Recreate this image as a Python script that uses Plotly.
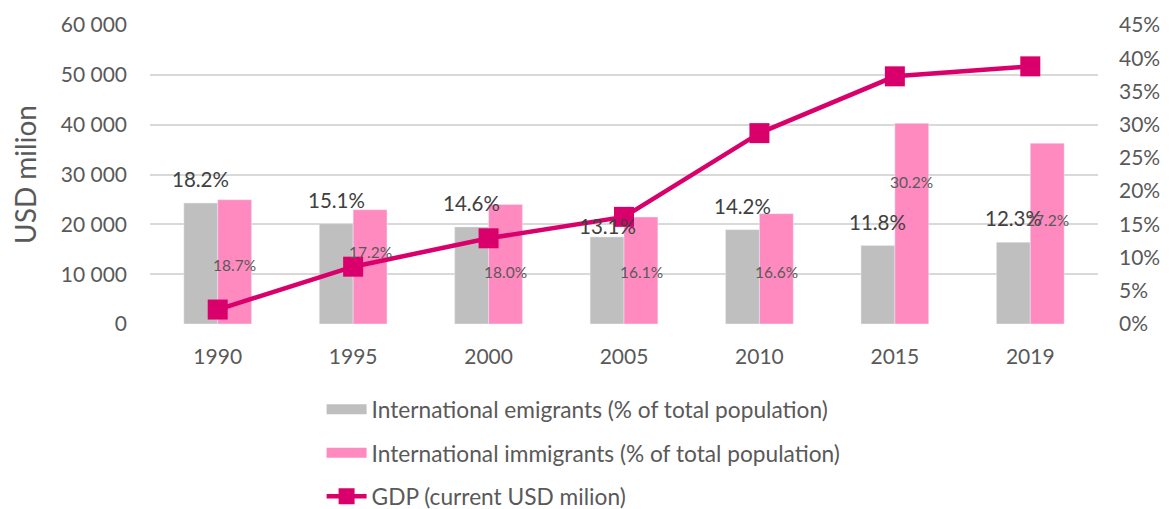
import plotly.graph_objects as go

years = ["1990", "1995", "2000", "2005", "2010", "2015", "2019"]
emigrants = [18.2, 15.1, 14.6, 13.1, 14.2, 11.8, 12.3]
immigrants = [18.7, 17.2, 18.0, 16.1, 16.6, 30.2, 27.2]
gdp = [2900, 11500, 17200, 21500, 38300, 49700, 51700]

# label placement for data labels (px above bar top / right-axis % units)
emi_label_shift = [24, 24, 24, 11, 24, 24, 24]
imm_label_y = [8.9, 10.9, 7.9, 7.9, 7.9, 21.4, 15.7]

FONT = "Lato"
TICK = "#595959"
GRAY = "#BFBFBF"
PINK = "#FF8AC0"
LINE = "#D9006C"
BAR_HALF = 17  # px, half of one bar's width
EMI_NAME = "International emigrants (% of total population)"
IMM_NAME = "International immigrants (% of total population)"

fig = go.Figure()
fig.add_trace(go.Bar(x=years, y=emigrants, name=EMI_NAME, marker_color=GRAY,
                     yaxis="y", showlegend=False))
fig.add_trace(go.Bar(x=years, y=immigrants, name=IMM_NAME, marker_color=PINK,
                     yaxis="y", showlegend=False))
# legend entries drawn as wide swatches
fig.add_trace(go.Scatter(x=[None], y=[None], name=EMI_NAME, mode="lines",
                         line=dict(color=GRAY, width=17), legendgroup="a", yaxis="y"))
fig.add_trace(go.Scatter(x=[None], y=[None], name=IMM_NAME, mode="lines",
                         line=dict(color=PINK, width=17), legendgroup="b", yaxis="y"))
fig.add_trace(go.Scatter(
    x=years, y=gdp, name="GDP (current USD milion)", yaxis="y2", legendgroup="c",
    mode="lines+markers", line=dict(color=LINE, width=4.5),
    marker=dict(symbol="square", size=20, color=LINE),
))

annotations = []
for i, (v, s) in enumerate(zip(emigrants, emi_label_shift)):
    annotations.append(dict(x=i, y=v, xref="x", yref="y", text=f"{v:.1f}%",
                            showarrow=False, xshift=-BAR_HALF, yshift=s,
                            yanchor="middle",
                            font=dict(size=20.5, color="#404040", family=FONT)))
for i, (v, ly) in enumerate(zip(immigrants, imm_label_y)):
    annotations.append(dict(x=i, y=ly, xref="x", yref="y", text=f"{v:.1f}%",
                            showarrow=False, xshift=BAR_HALF, yanchor="middle",
                            font=dict(size=15.5, color="#595959", family=FONT)))

fig.update_layout(
    width=1168, height=501,
    margin=dict(l=142, r=78, t=17, b=185),
    paper_bgcolor="white", plot_bgcolor="white",
    font=dict(family=FONT, color=TICK, size=21),
    separators=". ",
    barmode="group", bargap=0.5, bargroupgap=0,
    showlegend=True,
    annotations=annotations,
    legend=dict(orientation="v", x=0.181, xref="paper", y=0.2415, yref="container",
                xanchor="left", yanchor="top",
                font=dict(size=22.7, color=TICK), tracegroupgap=11,
                itemwidth=40, bgcolor="rgba(0,0,0,0)"),
    xaxis=dict(type="category", range=[-0.5, 6.5], showgrid=False, showline=False,
               ticks="", automargin=False,
               tickfont=dict(size=21, color=TICK), ticklabelstandoff=18),
    yaxis=dict(side="right", range=[0, 45], dtick=5, ticksuffix="%",
               showgrid=False, zeroline=False, showline=False, automargin=False,
               tickfont=dict(size=21, color=TICK), ticklabelstandoff=20),
    yaxis2=dict(side="left", overlaying="y", range=[0, 60000], dtick=10000,
                tickformat=",d", showgrid=True, gridcolor="#D9D9D9", gridwidth=1.5,
                zeroline=False, showline=False, automargin=False,
                tickfont=dict(size=21, color=TICK), ticklabelstandoff=22,
                title=dict(text="USD milion", font=dict(size=28, color=TICK), standoff=27)),
)

fig.write_html("out.html")
